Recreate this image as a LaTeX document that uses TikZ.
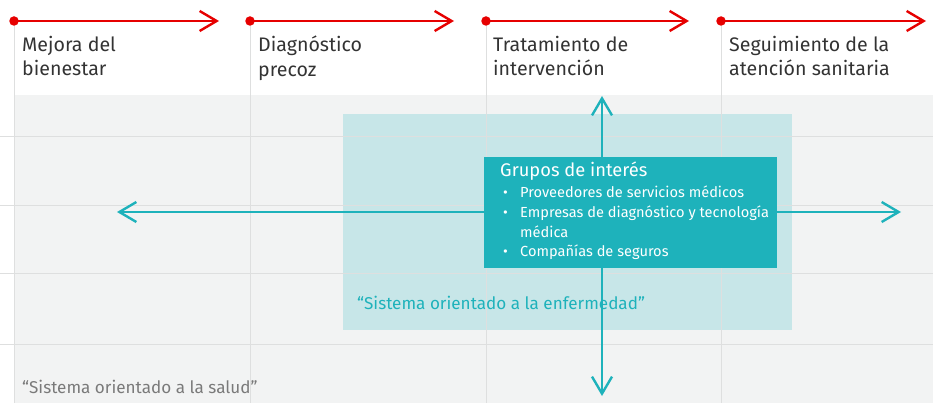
\documentclass[tikz,border=0pt]{standalone}
\usepackage{fontspec}
\setmainfont{Fira Sans}
\usetikzlibrary{arrows.meta}
\definecolor{vred}{HTML}{E60000}
\definecolor{tealdark}{HTML}{1EB2BB}
\definecolor{teallight}{HTML}{C7E6E8}
\definecolor{bggray}{HTML}{F2F3F3}
\definecolor{gridgray}{HTML}{DEDFDF}
\definecolor{hdtext}{HTML}{333333}
\definecolor{quotegray}{HTML}{7A7A7A}
\tikzset{
  phase/.style={draw=vred, line width=2.4pt, -{Straight Barb[length=17pt,width=20pt,line width=2.4pt]}},
  phasedot/.style={circle, fill=vred, inner sep=0pt, minimum size=9.5pt},
  gridline/.style={draw=gridgray, line width=1pt},
  header/.style={anchor=north west, align=left, inner sep=0pt, text=hdtext, font=\fontsize{19.6}{24.5}\selectfont},
  tarrow/.style={draw=tealdark, line width=2.4pt, -{Straight Barb[length=17pt,width=20pt,line width=2.4pt]}},
  quote/.style={anchor=base west, inner sep=0pt, font=\fontsize{17.1}{20}\selectfont},
  item/.style={anchor=base west, inner sep=0pt, text=white, font=\fontsize{14.6}{19.4}\selectfont},
}
\begin{document}
\begin{tikzpicture}[x=1pt,y=-1pt]
\useasboundingbox (0,0) rectangle (933,403);
% background
\fill[bggray] (14,95) rectangle (933,403);
\fill[teallight] (343,114) rectangle (792,330);
% grid
\foreach \gx in {14,250,486,721} \draw[gridline] (\gx,21) -- (\gx,403);
\foreach \gy in {137,206,273,344} \draw[gridline] (0,\gy) -- (933,\gy);
% phases
\node[phasedot] (s1) at (14,21) {};  \coordinate (e1) at (219,21);
\node[phasedot] (s2) at (250,21) {}; \coordinate (e2) at (454,21);
\node[phasedot] (s3) at (486,21) {}; \coordinate (e3) at (689,21);
\node[phasedot] (s4) at (721,21) {}; \coordinate (e4) at (926,21);
\draw[phase] (s1.center) -- (e1);
\draw[phase] (s2.center) -- (e2);
\draw[phase] (s3.center) -- (e3);
\draw[phase] (s4.center) -- (e4);
\node[header] (h1) at (22,36) {Mejora del\\bienestar};
\node[header] (h2) at (258,36) {Diagnóstico\\precoz};
\node[header] (h3) at (493,36) {Tratamiento de\\intervención};
\node[header] (h4) at (729,36) {Seguimiento de la\\atención sanitaria};
% arrows
\node[fill=tealdark, minimum width=293pt, minimum height=111pt, inner sep=0pt, anchor=north west] (grp) at (484,157) {};
\coordinate (up) at (602,96);
\coordinate (down) at (602,396);
\coordinate (left) at (117,212);
\coordinate (right) at (901,212);
\draw[tarrow] (grp.north -| up) -- (up);
\draw[tarrow] (grp.south -| down) -- (down);
\draw[tarrow] (grp.west |- left) -- (left);
\draw[tarrow] (grp.east |- right) -- (right);
\node[anchor=base west, inner sep=0pt, text=white, font=\fontsize{18.3}{20}\selectfont] (grptitle) at (500,177) {Grupos de interés};
\node[item] (b1) at (503,198) {•};
\node[item] (i1) at (520,198) {Proveedores de servicios médicos};
\node[item] (b2) at (503,218) {•};
\node[item] (i2) at (520,218) {Empresas de diagnóstico y tecnología};
\node[item] (i2b) at (520,237) {médica};
\node[item] (b3) at (503,256) {•};
\node[item] (i3) at (520,256) {Compañías de seguros};
\node[quote, text=tealdark] (enf) at (357,309) {“Sistema orientado a la enfermedad”};
\node[quote, text=quotegray] (sal) at (22,393) {“Sistema orientado a la salud”};
\end{tikzpicture}
\end{document}
